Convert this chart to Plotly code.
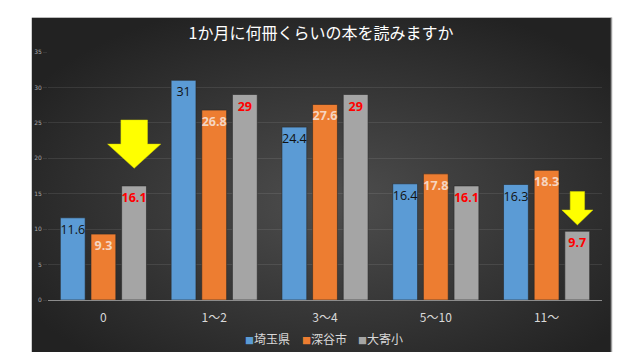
import base64
import plotly.graph_objects as go

# ---- data ----
categories = ["0", "1〜2", "3〜4", "5〜10", "11〜"]
saitama = [11.6, 31, 24.4, 16.4, 16.3]
fukaya = [9.3, 26.8, 27.6, 17.8, 18.3]
oyori = [16.1, 29, 29, 16.1, 9.7]
series_names = ["埼玉県", "深谷市", "大寄小"]
y_ticks = [0, 5, 10, 15, 20, 25, 30, 35]
title_text = "1か月に何冊くらいの本を読みますか"
# arrows highlight these (category index, value) of the 大寄小 series
arrow_targets = [(0, 16.1), (4, 9.7)]

# ---- styling ----
colors = ["#5b9bd5", "#ed7d31", "#a5a5a5"]
text_colors = ["#111111", "#f6d5c0", "#ff0000"]
text_weights = ["normal", "bold", "bold"]
FONT = "Noto Sans CJK JP"

# page body has an 8px margin; figure is sized to fit inside the window
OFF = 8
W, H = 640 - 2 * OFF, 360 - 2 * OFF

fig = go.Figure()
for name, vals, c, tc, tw in zip(series_names, [saitama, fukaya, oyori], colors, text_colors, text_weights):
    fig.add_trace(go.Bar(
        name=name, x=categories, y=vals,
        marker=dict(color=c, line=dict(color="rgba(40,40,40,0.6)", width=1)),
        text=[f"{v:g}" for v in vals],
        textposition="inside", insidetextanchor="end",
        textangle=0,
        textfont=dict(color=tc, size=12.5, family="Open Sans", weight=tw),
        cliponaxis=False, showlegend=False,
    ))

# background gradient panel
svg = ("<svg xmlns='http://www.w3.org/2000/svg' width='581' height='336'>"
       "<defs><radialGradient id='g' cx='52%' cy='55%' r='62%'>"
       "<stop offset='0' stop-color='#4e4e4e'/><stop offset='1' stop-color='#222222'/>"
       "</radialGradient></defs><rect width='100%' height='100%' fill='url(#g)'/></svg>")
src = "data:image/svg+xml;base64," + base64.b64encode(svg.encode()).decode()

# plot area in window pixels: x 47.5..602.5, y 51.7..300.3
PL, PR, PT, PB = 47.5, 602.5, 51.7, 300.3
L = PL - OFF
R = W - (PR - OFF)
T = PT - OFF
B = H - (PB - OFF)
pw, ph = PR - PL, PB - PT
def px2paper(x, y):
    return (x - PL) / pw, (PB - y) / ph

x0, y0 = px2paper(31, 17)
x1, y1 = px2paper(612, 353)
fig.add_layout_image(dict(source=src, xref="paper", yref="paper", x=x0, y=y0,
                          sizex=x1 - x0, sizey=y0 - y1, sizing="stretch",
                          xanchor="left", yanchor="top", layer="below"))
fig.add_shape(type="line", xref="paper", yref="paper", x0=x1, x1=x1, y0=y1, y1=y0,
              line=dict(color="#9a9a9a", width=1.5))

# arrows (block arrows pointing to 大寄小 bars)
slot_offset = 0.278
arrow_sizes = [  # (gap above bar, head length, shaft length, head half-width, shaft half-width)
    (2.5, 3.4, 3.4, 0.24, 0.12),
    (0.9, 2.1, 2.6, 0.14, 0.065),
]
for (ci, val), (gap, hl, sl, hw, sw) in zip(arrow_targets, arrow_sizes):
    cx = ci + slot_offset
    tip = val + gap
    hb = tip + hl
    top = hb + sl
    path = (f"M {cx} {tip} L {cx - hw} {hb} L {cx - sw} {hb} L {cx - sw} {top} "
            f"L {cx + sw} {top} L {cx + sw} {hb} L {cx + hw} {hb} Z")
    fig.add_shape(type="path", xref="x", yref="y", path=path,
                  fillcolor="#ffff00", line=dict(color="#d8d800", width=0.5))

# legend drawn as text items
for i, (n, c) in enumerate(zip(series_names, colors)):
    lx, ly = px2paper(243 + 56.5 * i, 339)
    fig.add_annotation(text=f"<span style='font-size:9px;color:{c}'>■</span>{n}",
                       xref="paper", yref="paper", x=lx, y=ly,
                       xanchor="left", yanchor="middle", showarrow=False,
                       font=dict(family=FONT, size=12, color="#d9d9d9"))

fig.update_layout(
    width=W, height=H,
    margin=dict(l=L, r=R, t=T, b=B, autoexpand=False),
    paper_bgcolor="white", plot_bgcolor="rgba(0,0,0,0)",
    barmode="group", bargap=0.17, bargroupgap=0.19,
    uniformtext=dict(minsize=12.5, mode="show"),
    title=dict(text=title_text, x=(321 - OFF) / W, xref="container", y=1 - (33 - OFF) / H,
               yref="container", xanchor="center", yanchor="middle",
               font=dict(family=FONT, size=16, color="white")),
    showlegend=False,
)
fig.update_xaxes(type="category", showgrid=False, showline=True, linecolor="#8c8c8c",
                 linewidth=1, ticks="outside", ticklen=7, tickcolor="rgba(0,0,0,0)",
                 automargin=False,
                 tickfont=dict(family=FONT, size=12, color="#d9d9d9"))
fig.update_yaxes(range=[0, 35], tickvals=y_ticks, showgrid=True, automargin=False,
                 gridcolor="rgba(255,255,255,0.09)", gridwidth=1, zeroline=False,
                 tickfont=dict(family="DejaVu Sans", size=6, color="#a6a6a6"),
                 ticks="outside", ticklen=4, tickcolor="rgba(255,255,255,0.09)")

fig.write_html("out.html")
